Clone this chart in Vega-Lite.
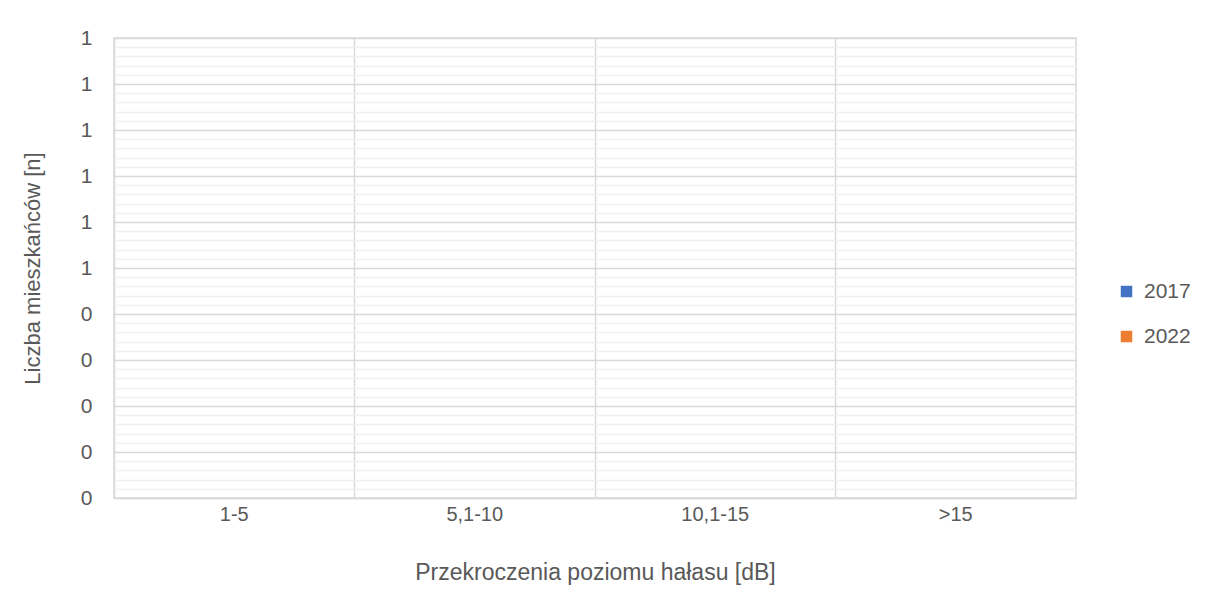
{
  "$schema": "https://vega.github.io/schema/vega-lite/v6.json",
  "width": 962,
  "height": 460,
  "autosize": {"type": "none"},
  "padding": {"left": 114, "top": 38, "right": 130, "bottom": 113},
  "background": "white",
  "config": {
    "font": "Liberation Sans",
    "view": {"stroke": "#d9d9d9", "strokeWidth": 1.5},
    "axis": {"labelColor": "#595959", "titleColor": "#595959", "labelFont": "Liberation Sans", "titleFont": "Liberation Sans", "titleFontWeight": "normal"}
  },
  "data": {
    "values": [
      {"kategoria": "1-5", "rok": "2017", "liczba": 0},
      {"kategoria": "1-5", "rok": "2022", "liczba": 0},
      {"kategoria": "5,1-10", "rok": "2017", "liczba": 0},
      {"kategoria": "5,1-10", "rok": "2022", "liczba": 0},
      {"kategoria": "10,1-15", "rok": "2017", "liczba": 0},
      {"kategoria": "10,1-15", "rok": "2022", "liczba": 0},
      {"kategoria": ">15", "rok": "2017", "liczba": 0},
      {"kategoria": ">15", "rok": "2022", "liczba": 0}
    ]
  },
  "mark": {"type": "bar"},
  "encoding": {
    "x": {
      "field": "kategoria",
      "type": "nominal",
      "sort": ["1-5", "5,1-10", "10,1-15", ">15"],
      "scale": {"paddingInner": 0, "paddingOuter": 0},
      "axis": {
        "title": "Przekroczenia poziomu hałasu [dB]",
        "labelAngle": 0,
        "labelFontSize": 20,
        "titleFontSize": 23,
        "labelPadding": 6,
        "titlePadding": 37,
        "ticks": false,
        "grid": true,
        "bandPosition": 0,
        "gridColor": "#d9d9d9",
        "gridWidth": 1.5,
        "domainColor": "#d9d9d9",
        "domainWidth": 1.5
      }
    },
    "xOffset": {"field": "rok", "type": "nominal"},
    "y": {
      "field": "liczba",
      "type": "quantitative",
      "scale": {"domain": [0, 1], "nice": false, "zero": true},
      "axis": {
        "title": "Liczba mieszkańców [n]",
        "values": [0,0.02,0.04,0.06,0.08,0.1,0.12,0.14,0.16,0.18,0.2,0.22,0.24,0.26,0.28,0.3,0.32,0.34,0.36,0.38,0.4,0.42,0.44,0.46,0.48,0.5,0.52,0.54,0.56,0.58,0.6,0.62,0.64,0.66,0.68,0.7,0.72,0.74,0.76,0.78,0.8,0.82,0.84,0.86,0.88,0.9,0.92,0.94,0.96,0.98,1],
        "labelExpr": "abs(datum.value*10 - round(datum.value*10)) < 0.001 ? format(datum.value, '.0f') : ''",
        "labelFontSize": 21,
        "titleFontSize": 22,
        "labelPadding": 22,
        "titlePadding": 36,
        "ticks": false,
        "domain": false,
        "grid": true,
        "gridColor": {"condition": {"test": "abs(datum.value*10 - round(datum.value*10)) < 0.001", "value": "#d9d9d9"}, "value": "#f0f0f0"},
        "gridWidth": 1.5
      }
    },
    "color": {
      "field": "rok",
      "type": "nominal",
      "scale": {"domain": ["2017", "2022"], "range": ["#4472c4", "#ed7d31"]},
      "legend": {
        "title": null,
        "symbolType": "square",
        "symbolSize": 132,
        "symbolStrokeWidth": 0,
        "labelFontSize": 21,
        "labelColor": "#595959",
        "labelFont": "Liberation Sans",
        "labelOffset": 7,
        "rowPadding": 23,
        "orient": "none",
        "legendX": 1002,
        "legendY": 243
      }
    }
  }
}
